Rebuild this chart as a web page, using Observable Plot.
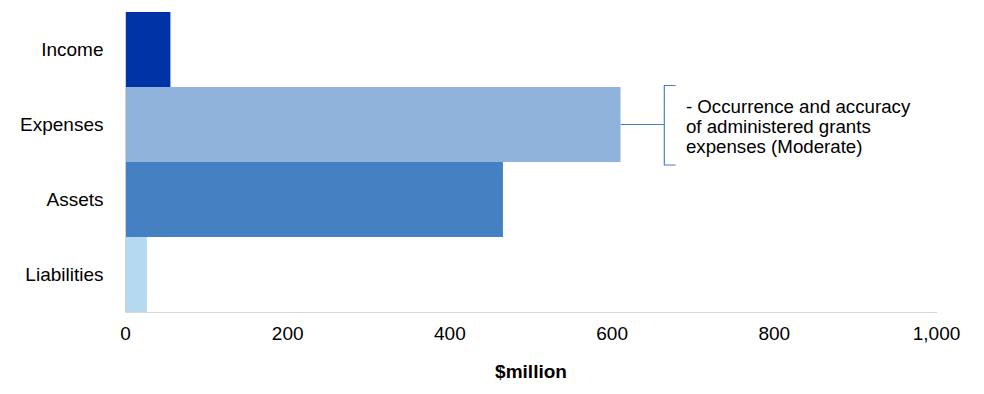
<!DOCTYPE html>
<html>
<head>
<meta charset="utf-8">
<script src="https://cdn.jsdelivr.net/npm/d3@7"></script>
<script src="https://cdn.jsdelivr.net/npm/@observablehq/plot@0.6"></script>
<style>
  html, body { margin: 0; padding: 0; background: #fff; }
  #chart svg { display: block; font-family: Arial, "Liberation Sans", sans-serif; }
</style>
</head>
<body>
<div id="chart"></div>
<script>
const categories = ["Income", "Expenses", "Assets", "Liabilities"];
const values = [56, 611, 466, 27];
const colors = ["#0033a6", "#8fb3da", "#4580c2", "#b5d9ee"];
const xTicks = [0, 200, 400, 600, 800, 1000];
const annotationCategory = "Expenses";
const annotationLines = ["- Occurrence and accuracy", "of administered grants", "expenses (Moderate)"];
const bracketX = 665;   // data units
const bracketTickX = 679;
const annotationTextX = 691;

const data = categories.map((c, i) => ({category: c, value: values[i], color: colors[i]}));
const annotated = data.filter(d => d.category === annotationCategory);

const bracket = (index, scales, values, dims, context) => {
  const svg = d3.create("svg:g");
  const d = annotated[0];
  const y0 = scales.y(d.category);
  const bw = scales.y.bandwidth();
  const top = y0 - 1.5, bottom = y0 + bw + 3;
  const mid = y0 + bw / 2;
  const x0 = scales.x(d.value), xb = scales.x(bracketX), xt = scales.x(bracketTickX);
  const stroke = "#4a7fc1";
  svg.append("path")
    .attr("d", `M${x0},${mid}H${xb}M${xt},${top}H${xb}V${bottom}H${xt}`)
    .attr("fill", "none").attr("stroke", stroke).attr("stroke-width", 1.2);
  return svg.node();
};

const chart = Plot.plot({
  width: 984,
  height: 394,
  marginLeft: 125,
  marginRight: 48,
  marginTop: 12,
  marginBottom: 82,
  style: {fontFamily: "Arial, 'Liberation Sans', sans-serif", fontSize: "19px", color: "#000", background: "#fff"},
  x: {domain: [0, 1000]},
  y: {domain: categories, padding: 0},
  marks: [
    Plot.barX(data, {x: "value", y: "category", fill: "color"}),
    Plot.frame({anchor: "bottom", stroke: "#d9d9d9"}),
    Plot.ruleX([0], {stroke: "#d0d0d0"}),
    Plot.axisX({ticks: xTicks, tickSize: 0, tickPadding: 14, tickFormat: d3.format(","), fontSize: 19,
      label: "$million", labelAnchor: "center", labelArrow: false, labelOffset: 65}),
    Plot.axisY({tickSize: 0, tickPadding: 22, fontSize: 19, label: null}),
    bracket,
    Plot.text(annotated, {x: () => annotationTextX, y: "category", text: () => annotationLines.join("\n"),
      textAnchor: "start", lineHeight: 1.07, fontSize: 18.7, dy: 2, fill: "#000"})
  ]
});

d3.select(chart).selectAll("text").filter(function() { return this.textContent === "$million"; })
  .attr("font-weight", "bold");

document.getElementById("chart").append(chart);
</script>
</body>
</html>
